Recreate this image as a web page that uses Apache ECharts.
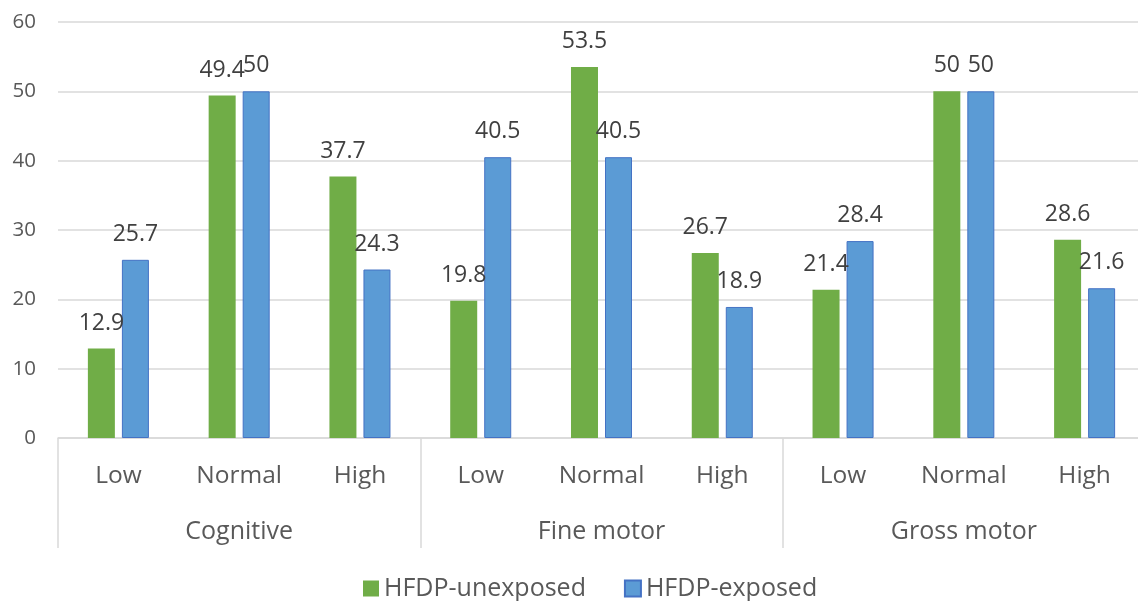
<!DOCTYPE html>
<html>
<head>
<meta charset="utf-8">
<script src="https://cdn.jsdelivr.net/npm/echarts@6/dist/echarts.min.js"></script>
<style>
html,body{margin:0;padding:0;background:#fff;}
#chart{width:1138px;height:601px;}
</style>
</head>
<body>
<div id="chart"></div>
<script>
const levels = ["Low", "Normal", "High", "Low", "Normal", "High", "Low", "Normal", "High"];
const domains = ["Cognitive", "Fine motor", "Gross motor"];
const seriesNames = ["HFDP-unexposed", "HFDP-exposed"];
const unexposed = [12.9, 49.4, 37.7, 19.8, 53.5, 26.7, 21.4, 50, 28.6];
const exposed = [25.7, 50, 24.3, 40.5, 40.5, 18.9, 28.4, 50, 21.6];
const yTicks = { min: 0, max: 60, interval: 10 };

const FONT = "'Open Sans', sans-serif";
const chart = echarts.init(document.getElementById('chart'), null, { renderer: 'canvas' });
const labelStyle = {
  show: true, position: 'top', distance: 14,
  fontSize: 23, color: '#404040', fontFamily: FONT
};
chart.setOption({
  animation: false,
  backgroundColor: '#ffffff',
  textStyle: { fontFamily: FONT },
  grid: { left: 58, right: -7, top: 22, bottom: 163, containLabel: false, outerBoundsMode: 'none' },
  legend: {
    data: seriesNames,
    top: 571,
    left: 358,
    itemWidth: 16, itemHeight: 16, itemGap: 38,
    icon: 'rect',
    textStyle: { fontSize: 25, color: '#595959', fontFamily: FONT }
  },
  xAxis: [
    {
      type: 'category',
      data: levels,
      position: 'bottom',
      axisLine: { show: true, lineStyle: { color: '#d9d9d9', width: 1.5 } },
      axisTick: { show: false },
      axisLabel: { margin: 26, fontSize: 24.5, color: '#595959', fontFamily: FONT, interval: 0 }
    },
    {
      type: 'category',
      data: domains,
      position: 'bottom',
      axisLine: { show: false },
      axisTick: { show: true, length: 110, inside: false, alignWithLabel: false, lineStyle: { color: '#d9d9d9', width: 1.5 } },
      axisLabel: { margin: 81, fontSize: 25, color: '#595959', fontFamily: FONT, interval: 0 }
    }
  ],
  yAxis: {
    type: 'value',
    min: yTicks.min, max: yTicks.max, interval: yTicks.interval,
    axisLine: { show: false },
    axisTick: { show: false },
    axisLabel: { fontSize: 20.5, color: '#595959', margin: 22, fontFamily: FONT },
    splitLine: { lineStyle: { color: '#d9d9d9', width: 1.5 } }
  },
  series: [
    {
      name: seriesNames[0], type: 'bar', xAxisIndex: 0,
      data: unexposed,
      barWidth: 27, barGap: '26%',
      itemStyle: { color: '#70AD47' },
      label: labelStyle
    },
    {
      name: seriesNames[1], type: 'bar', xAxisIndex: 0,
      data: exposed,
      barWidth: 27,
      itemStyle: { color: '#5B9BD5', borderColor: '#4472C4', borderWidth: 1 },
      label: labelStyle
    }
  ]
});
</script>
</body>
</html>
